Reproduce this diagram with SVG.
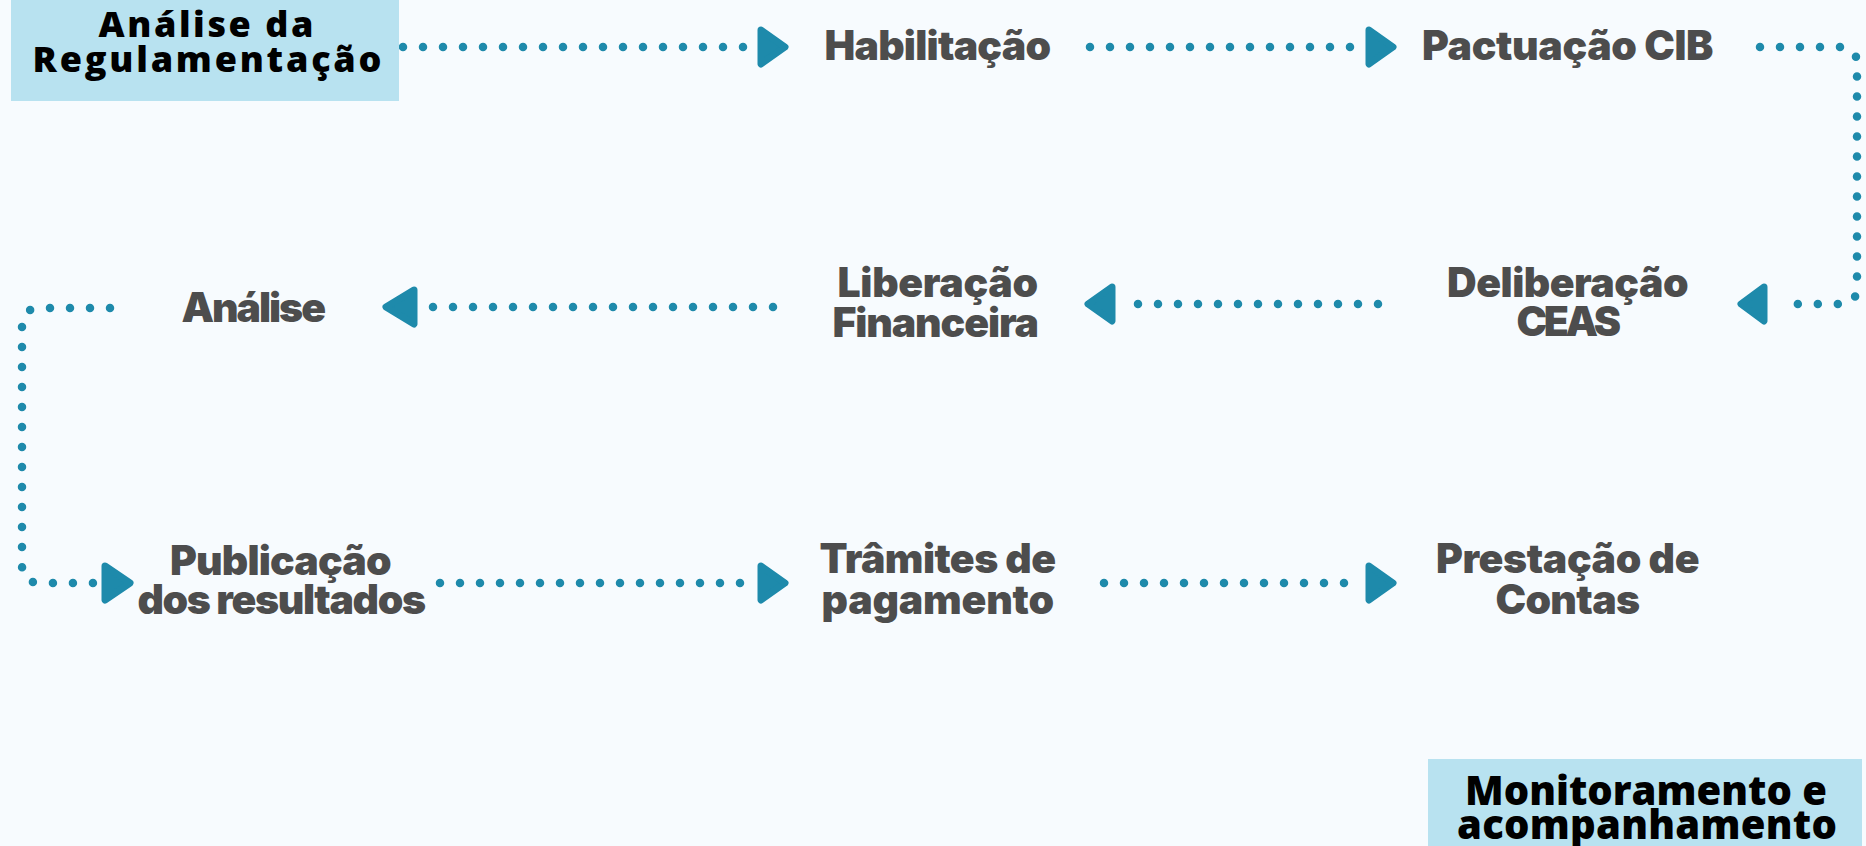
<svg xmlns="http://www.w3.org/2000/svg" width="1866" height="846" viewBox="0 0 1866 846">
<style>
.bg{fill:#f7fbfe}
.box{fill:#b8e2f0}
.lbl{font-family:Inter,"Liberation Sans",sans-serif;font-weight:900;font-size:41px;fill:#4d4d4d;text-anchor:middle;letter-spacing:-1.5px}
.blk{font-family:"Open Sans","Liberation Sans",sans-serif;font-weight:800;fill:#000;text-anchor:middle}
.dots{fill:none;stroke:#1e8aab;stroke-width:8.5;stroke-linecap:round;stroke-linejoin:round;stroke-dasharray:0 20}
.arr{fill:#1e8aab;stroke:#1e8aab;stroke-width:7;stroke-linejoin:round}
</style>
<rect class="bg" x="0" y="0" width="1866" height="846"/>
<g id="connectors">
<path class="dots" d="M403 47 H752"/>
<polygon class="arr" points="761,30 785,47 761,64"/>
<path class="dots" d="M1090 47 H1352"/>
<polygon class="arr" points="1369,30 1393,47 1369,64"/>
<path class="dots" d="M1760 47 H1840 Q1857 47 1857 64 V287 Q1857 304 1840 304 H1787"/>
<polygon class="arr" points="1764,287 1741,304 1764,321"/>
<path class="dots" d="M1378 304 H1130"/>
<polygon class="arr" points="1112,287 1088,304 1112,321"/>
<path class="dots" d="M773 307 H430"/>
<polygon class="arr" points="414,290 386,307 414,324"/>
<path class="dots" d="M110 308 H40 Q22 308 22 326 V565 Q22 583 40 583 H100"/>
<polygon class="arr" points="105,566 130,583 105,600"/>
<path class="dots" d="M440 583 H752"/>
<polygon class="arr" points="761,566 785,583 761,600"/>
<path class="dots" d="M1104 583 H1352"/>
<polygon class="arr" points="1369,566 1393,583 1369,600"/>
</g>
<g id="n-regulamentacao">
<rect class="box" x="11" y="0" width="388" height="101"/>
<text class="blk" font-size="36" x="206" y="37" textLength="215" lengthAdjust="spacing">Análise da</text>
<text class="blk" font-size="36" x="207" y="72" textLength="349" lengthAdjust="spacing">Regulamentação</text>
</g>
<g id="n-habilitacao"><text class="lbl" x="937" y="60" textLength="225" lengthAdjust="spacing">Habilitação</text></g>
<g id="n-pactuacao"><text class="lbl" x="1567" y="60" textLength="290" lengthAdjust="spacing">Pactuação CIB</text></g>
<g id="n-deliberacao">
<text class="lbl" x="1567" y="297" textLength="240" lengthAdjust="spacing">Deliberação</text>
<text class="lbl" x="1568" y="336" textLength="103" lengthAdjust="spacing">CEAS</text>
</g>
<g id="n-liberacao">
<text class="lbl" x="937" y="297" textLength="199" lengthAdjust="spacing">Liberação</text>
<text class="lbl" x="935" y="337" textLength="205" lengthAdjust="spacing">Financeira</text>
</g>
<g id="n-analise"><text class="lbl" x="253" y="322" textLength="143" lengthAdjust="spacing">Análise</text></g>
<g id="n-publicacao">
<text class="lbl" x="280" y="575" textLength="220" lengthAdjust="spacing">Publicação</text>
<text class="lbl" x="281" y="614" textLength="287" lengthAdjust="spacing">dos resultados</text>
</g>
<g id="n-tramites">
<text class="lbl" x="937" y="573" textLength="235" lengthAdjust="spacing">Trâmites de</text>
<text class="lbl" x="937" y="614" textLength="231" lengthAdjust="spacing">pagamento</text>
</g>
<g id="n-prestacao">
<text class="lbl" x="1567" y="573" textLength="262" lengthAdjust="spacing">Prestação de</text>
<text class="lbl" x="1567" y="614" textLength="143" lengthAdjust="spacing">Contas</text>
</g>
<g id="n-monitoramento">
<rect class="box" x="1428" y="759" width="434" height="87"/>
<text class="blk" font-size="40" x="1646" y="805" textLength="362" lengthAdjust="spacing">Monitoramento e</text>
<text class="blk" font-size="40" x="1647" y="839" textLength="380" lengthAdjust="spacing">acompanhamento</text>
</g>
</svg>
